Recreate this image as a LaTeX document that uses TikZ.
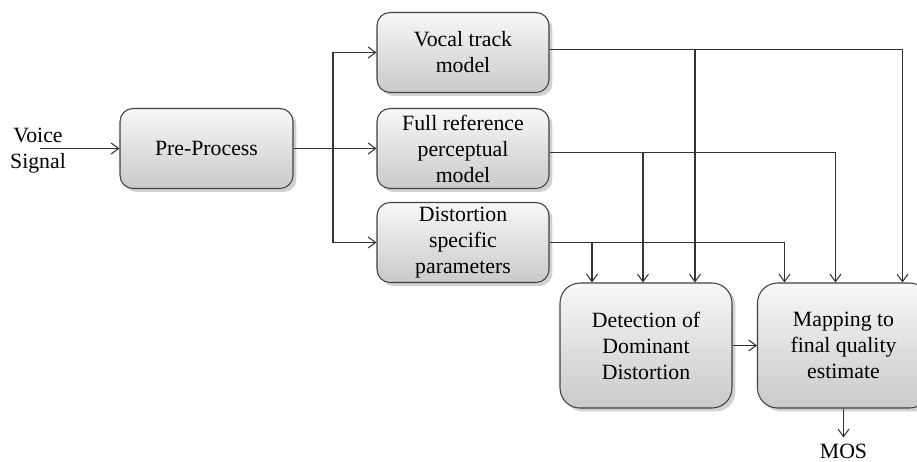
\documentclass[tikz,border=0pt]{standalone}
\usepackage{fontspec}
\setmainfont{Liberation Serif}
\usetikzlibrary{arrows.meta,shadows}

\begin{document}
\begin{tikzpicture}[x=0.02cm, y=-0.02cm,
  every node/.style={font=\fontsize{12.4}{14.8}\selectfont},
  block/.style={draw=black!75, line width=0.6pt, rounded corners=0.26cm, align=center,
    top color=gray!6, bottom color=gray!42, minimum width=3.44cm, minimum height=1.6cm, inner sep=1pt,
    drop shadow={shadow xshift=0.7mm, shadow yshift=-0.7mm, opacity=0.3, fill=black!60}},
  bigblock/.style={block, rounded corners=0.4cm, minimum height=2.5cm},
  link/.style={draw=black!80, line width=0.6pt},
  arr/.style={link, -{Straight Barb[length=1.5mm, width=2.2mm]}}]

\useasboundingbox (0,0) rectangle (917,461);

% Input and pre-processing
\node[align=center] (voice) at (38,151) {Voice\\Signal};
\coordinate (in) at (40,148.5);
\node[block, minimum width=3.46cm] (pre) at (206.5,148.5) {Pre-Process};

% Three analysis models
\node[block] (vocal) at (463,52.5) {Vocal track\\model};
\node[block] (full) at (463,148.5) {Full reference\\perceptual\\model};
\node[block] (dist) at (463,242.5) {Distortion\\specific\\parameters};

% Detection and mapping
\node[bigblock] (det) at (646,345.5) {Detection of\\Dominant\\Distortion};
\node[bigblock] (map) at (843.5,345.5) {Mapping to\\final quality\\estimate};
\node (mos) at (843.5,451) {MOS};

% Input side
\draw[arr] (in) -- (pre);
\coordinate (split) at (333,148.5);
\draw[link] (pre) -- (split);
\draw[arr] (split) -- (full);
\draw[arr] (split) |- (vocal);
\draw[arr] (split) |- (dist);

% Output points of the models
\coordinate (vout) at ([yshift=0.06cm]vocal.east);
\coordinate (fout) at ([yshift=-0.08cm]full.east);

% Vocal track model outputs
\draw[arr] (vout) -| ([xshift=1.18cm]map.north);
\draw[arr] ([xshift=0.98cm]det.north |- vout) -- ([xshift=0.98cm]det.north);

% Full reference model outputs
\draw[arr] (fout) -| ([xshift=-0.16cm]map.north);
\draw[arr] ([xshift=-0.06cm]det.north |- fout) -- ([xshift=-0.06cm]det.north);

% Distortion parameter outputs
\draw[arr] (dist) -| ([xshift=-1.18cm]map.north);
\draw[arr] ([xshift=-1.08cm]det.north |- dist.east) -- ([xshift=-1.08cm]det.north);

% Final stage
\draw[arr] (det) -- (map);
\draw[arr] (map) -- (mos);

\end{tikzpicture}
\end{document}
